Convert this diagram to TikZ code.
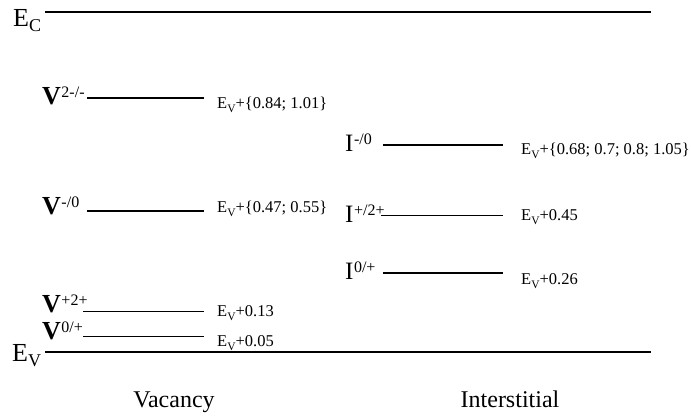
\documentclass[tikz,border=0pt]{standalone}
\usepackage{fontspec}
\setmainfont{Liberation Serif}
\newcommand{\spr}[1]{\hspace{0.5pt}\raisebox{7pt}{\fontsize{16}{16}\selectfont #1}}
\newcommand{\sbig}[1]{\raisebox{-5pt}{\fontsize{18}{18}\selectfont #1}}
\newcommand{\evp}{E\raisebox{-3.5pt}{\fontsize{11.5}{11.5}\selectfont V}+}
\begin{document}
\begin{tikzpicture}[x=1pt,y=-1pt,
  lvl/.style={line width=1.8pt},
  lvlthin/.style={line width=1pt},
  band/.style={line width=1.2pt},
  st/.style={anchor=base west, inner sep=0pt, font=\fontsize{25}{25}\selectfont},
  vst/.style={st, font=\fontsize{26}{26}\selectfont},
  en/.style={anchor=base west, inner sep=0pt, font=\fontsize{16.5}{16.5}\selectfont},
  captxt/.style={anchor=base, inner sep=0pt, font=\fontsize{24}{24}\selectfont}]
\useasboundingbox (0,0) rectangle (691,419);
% bands
\node[st, font=\fontsize{26}{26}\selectfont] (ec) at (13,27) {E\sbig{C}};
\coordinate (ecl) at (45,12); \coordinate (ecr) at (651,12);
\draw[band] (ecl) -- (ecr);
\node[st, font=\fontsize{26}{26}\selectfont] (evt) at (12,362) {E\sbig{V}};
\coordinate (evl) at (45,352); \coordinate (evr) at (651,352);
\draw[band] (evl) -- (evr);
% vacancy levels
\node[vst] (v1) at (42,105) {\textbf{V}\spr{2-/-}};
\coordinate (v1l) at (87,98); \coordinate (v1r) at (204,98);
\draw[lvl] (v1l) -- (v1r);
\node[en] (v1e) at (217,109) {\evp\{0.84; 1.01\}};
\node[vst] (v2) at (42,215) {\textbf{V}\spr{-/0}};
\coordinate (v2l) at (87,211); \coordinate (v2r) at (204,211);
\draw[lvl] (v2l) -- (v2r);
\node[en] (v2e) at (217,213) {\evp\{0.47; 0.55\}};
\node[vst] (v3) at (42,313) {\textbf{V}\spr{+2+}};
\coordinate (v3l) at (83,312); \coordinate (v3r) at (204,312);
\draw[lvlthin] (v3l) -- (v3r);
\node[en] (v3e) at (217,317) {\evp0.13};
\node[vst] (v4) at (42,340) {\textbf{V}\spr{0/+}};
\coordinate (v4l) at (83,337); \coordinate (v4r) at (204,337);
\draw[lvlthin] (v4l) -- (v4r);
\node[en] (v4e) at (217,347) {\evp0.05};
% interstitial levels
\node[st] (i1) at (345,152) {I\spr{-/0}};
\coordinate (i1l) at (383,145); \coordinate (i1r) at (503,145);
\draw[lvl] (i1l) -- (i1r);
\node[en] (i1e) at (521,155) {\evp\{0.68; 0.7; 0.8; 1.05\}};
\node[st] (i2) at (345,223) {I\spr{+/2+}};
\coordinate (i2l) at (381,216); \coordinate (i2r) at (503,216);
\draw[lvlthin] (i2l) -- (i2r);
\node[en] (i2e) at (521,221) {\evp0.45};
\node[st] (i3) at (345,280) {I\spr{0/+}};
\coordinate (i3l) at (383,273); \coordinate (i3r) at (503,273);
\draw[lvl] (i3l) -- (i3r);
\node[en] (i3e) at (521,285) {\evp0.26};
% captions
\node[captxt] (vac) at (174,408) {Vacancy};
\node[captxt] (int) at (510,408) {Interstitial};
\end{tikzpicture}
\end{document}
